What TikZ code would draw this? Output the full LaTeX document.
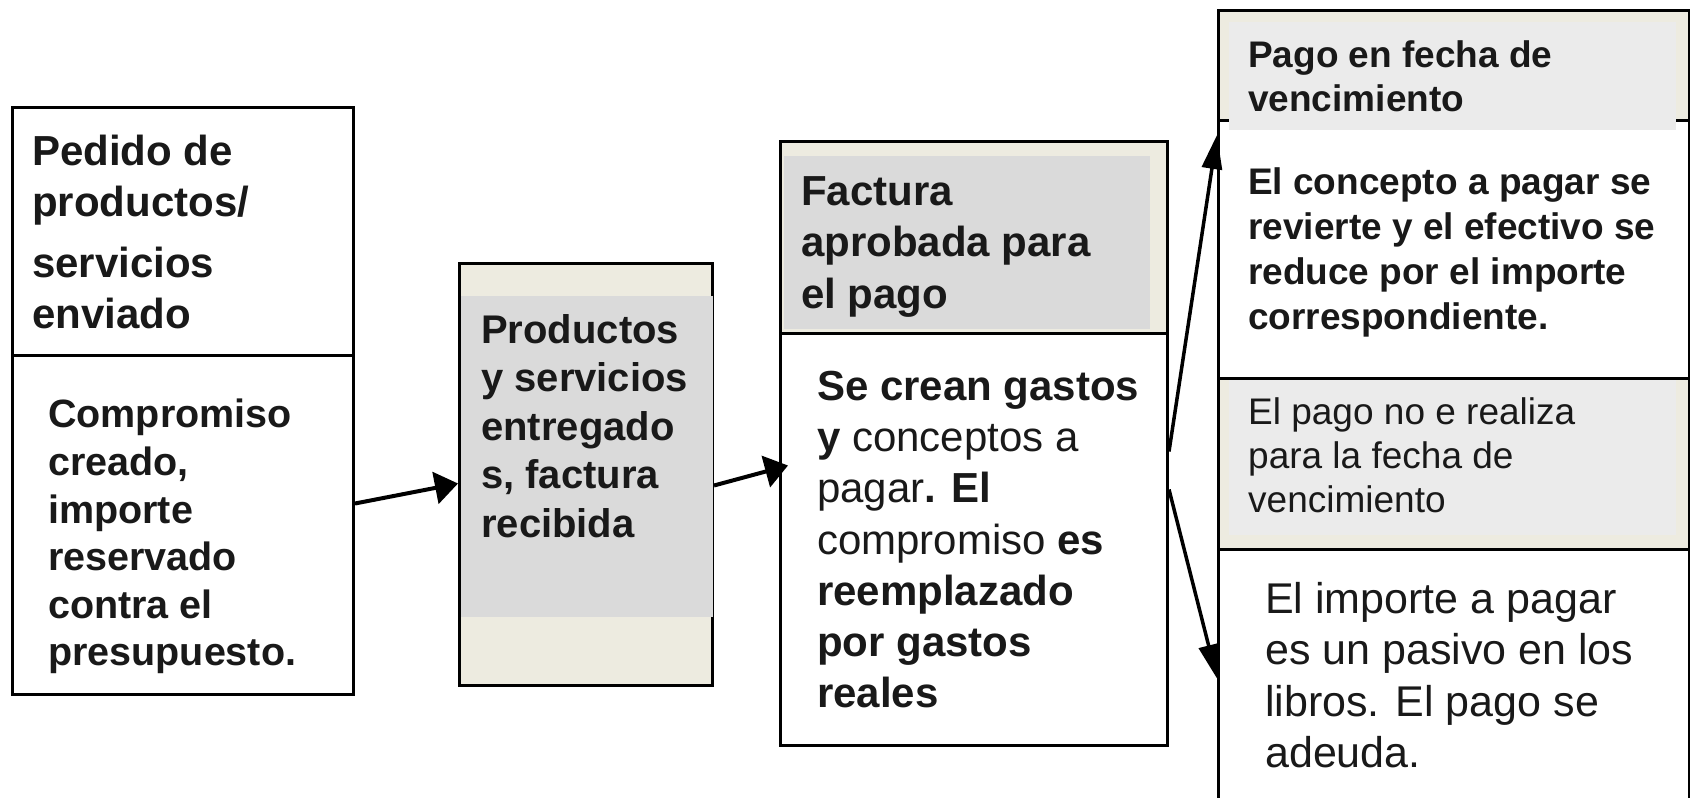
\documentclass[tikz,border=0pt]{standalone}
\usepackage{fontspec}
\setmainfont{Liberation Sans}
\usetikzlibrary{arrows.meta}
\definecolor{beige}{HTML}{EDEBE0}
\definecolor{cellgrey}{HTML}{DADADA}
\definecolor{lightcell}{HTML}{EBEBEB}

\begin{document}
\begin{tikzpicture}[x=1pt,y=-1pt,
    boxframe/.style={draw, line width=3pt, inner sep=0pt, anchor=north west},
    txt/.style={inner sep=0pt, anchor=north west, align=left, text=black!90},
    arr/.style={line width=4pt, -{Triangle[length=23pt,width=32pt]}},
    arrv/.style={line width=3.5pt, -{Triangle[length=34pt,width=20pt]}}]
    \useasboundingbox (0,0) rectangle (1690,798);

    % order placed
    \node[boxframe, fill=white, minimum width=341pt, minimum height=248pt] (pedido) at (11,106) {}; % header
    \node[boxframe, minimum width=341pt, minimum height=339pt] (compromiso) at (11,354) {}; % body

    % goods delivered
    \node[boxframe, fill=beige, minimum width=253pt, minimum height=422pt] (productos) at (458,262) {};
    \fill[cellgrey] (461,296) rectangle (713,617);

    % invoice approved
    \node[boxframe, fill=beige, minimum width=387pt, minimum height=192pt] (factura) at (779,140) {}; % header
    \fill[cellgrey] (784,156) rectangle (1150,329);
    \node[boxframe, minimum width=387pt, minimum height=412pt] (gastos) at (779,332) {}; % body

    % payment column
    \node[boxframe, fill=beige, minimum width=471pt, minimum height=110pt] (pago) at (1217,9) {}; % paid on time
    \node[boxframe, minimum width=471pt, minimum height=258pt] (pagobody) at (1217,119) {};
    \node[boxframe, fill=beige, minimum width=471pt, minimum height=171pt] (nopago) at (1217,377) {}; % not paid
    \node[boxframe, minimum width=471pt, minimum height=254pt] (nopagobody) at (1217,548) {};
    \fill[lightcell] (1229,22) rectangle (1676,130);
    \fill[lightcell] (1229,380) rectangle (1676,535);

    % texts
    \node[txt, font=\fontsize{42}{51}\selectfont\bfseries] (tpedido) at (32,135) {Pedido de\\productos/\\[10pt]servicios\\enviado};
    \node[txt, font=\fontsize{39.5}{47.6}\selectfont\bfseries] (tcompromiso) at (48,399) {Compromiso\\creado,\\importe\\reservado\\contra el\\presupuesto.};
    \node[txt, font=\fontsize{40}{48.5}\selectfont\bfseries] (tproductos) at (481,314) {Productos\\y servicios\\entregado\\s, factura\\recibida};
    \node[txt, font=\fontsize{42}{51.7}\selectfont\bfseries] (tfactura) at (801,176) {Factura\\aprobada para\\el pago};
    \node[txt, font=\fontsize{42}{51.2}\selectfont] (tgastos) at (817,371) {\textbf{Se crean gastos}\\\textbf{y} conceptos a\\pagar\textbf{. El}\\compromiso \textbf{es}\\\textbf{reemplazado}\\\textbf{por gastos}\\\textbf{reales}};
    \node[txt, font=\fontsize{37}{44}\selectfont\bfseries] (tpago) at (1248,40) {Pago en fecha de\\vencimiento};
    \node[txt, font=\fontsize{37}{45.3}\selectfont\bfseries] (trevierte) at (1248,167) {El concepto a pagar se\\revierte y el efectivo se\\reduce por el importe\\correspondiente.};
    \node[txt, font=\fontsize{37}{44}\selectfont] (tnopago) at (1248,397) {El pago no e realiza\\para la fecha de\\vencimiento};
    \node[txt, font=\fontsize{43}{51.5}\selectfont] (tpasivo) at (1265,582) {El importe a pagar\\es un pasivo en los\\libros. El pago se\\adeuda.};

    % arrows
    \draw[arr] ([yshift=21.5pt]compromiso.east) -- ([yshift=-9pt]productos.west);
    \draw[arr] ([yshift=-11pt]productos.east) -- ([xshift=9pt,yshift=74pt]gastos.west);
    \draw[arrv] ([yshift=88pt]gastos.east) -- ([yshift=-16pt]pagobody.north west);
    \draw[arrv] ([yshift=50pt]gastos.east) -- ([yshift=-2pt]nopagobody.west);
\end{tikzpicture}
\end{document}
